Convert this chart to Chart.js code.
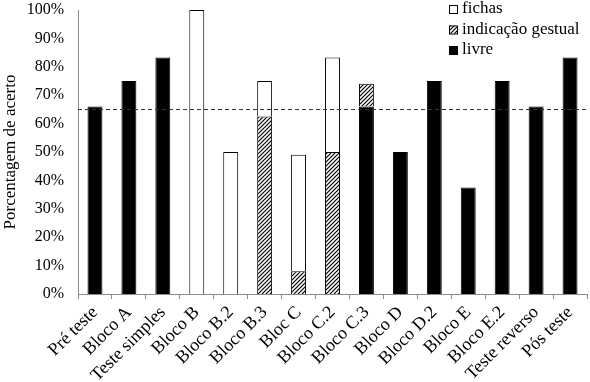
<!DOCTYPE html>
<html>
<head>
<meta charset="utf-8">
<script src="https://cdn.jsdelivr.net/npm/chart.js@4"></script>
<style>
  body { margin: 0; background: #fff; }
  #wrap { width: 590px; height: 382px; }
</style>
</head>
<body>
<div id="wrap"><canvas id="acertos"></canvas></div>
<script>
// Dados
const categorias = ['Pré teste', 'Bloco A', 'Teste simples', 'Bloco B', 'Bloco B.2', 'Bloco B.3', 'Bloc C',
  'Bloco C.2', 'Bloco C.3', 'Bloco D', 'Bloco D.2', 'Bloco E', 'Bloco E.2', 'Teste reverso', 'Pós teste'];
const livre = [66, 75, 83.3, 0, 0, 0, 0, 0, 66, 50, 75, 37.5, 75, 66, 83.3];
const gestual = [0, 0, 0, 0, 0, 62.5, 8, 50, 8, 0, 0, 0, 0, 0, 0];
const fichas = [0, 0, 0, 100, 50, 12.5, 41, 33.3, 0, 0, 0, 0, 0, 0, 0];
const criterio = 65;

const fonte = 'Liberation Serif, Times New Roman, serif';
const cinza = '#8c8c8c';

// padrão hachurado
function hachura() {
  const c = document.createElement('canvas');
  c.width = 4; c.height = 4;
  const g = c.getContext('2d');
  g.fillStyle = '#fff';
  g.fillRect(0, 0, 4, 4);
  g.strokeStyle = '#000';
  g.lineWidth = 1.2;
  g.beginPath();
  g.moveTo(-1, 5); g.lineTo(5, -1);
  g.moveTo(-1, 1); g.lineTo(1, -1);
  g.moveTo(3, 5); g.lineTo(5, 3);
  g.stroke();
  return g.createPattern(c, 'repeat');
}
const padrao = hachura();

// linha tracejada do critério
const linhaCriterio = {
  id: 'linhaCriterio',
  afterDatasetsDraw(chart) {
    const ctx = chart.ctx;
    const y = Math.round(chart.scales.y.getPixelForValue(criterio)) + 0.5;
    ctx.save();
    ctx.strokeStyle = '#333';
    ctx.lineWidth = 1;
    ctx.setLineDash([4, 3]);
    ctx.beginPath();
    ctx.moveTo(chart.chartArea.left, y);
    ctx.lineTo(chart.chartArea.right, y);
    ctx.stroke();
    ctx.restore();
  }
};

// legenda dentro do gráfico
const legenda = {
  id: 'legenda',
  afterDraw(chart) {
    const ctx = chart.ctx;
    const itens = [
      { txt: 'fichas', cor: '#fff' },
      { txt: 'indicação gestual', cor: padrao },
      { txt: 'livre', cor: '#000' }
    ];
    ctx.save();
    ctx.font = '17px ' + fonte;
    ctx.textBaseline = 'middle';
    itens.forEach((it, i) => {
      const y = 9 + i * 20.5;
      ctx.fillStyle = it.cor;
      ctx.fillRect(449, y - 4, 8, 8);
      ctx.strokeStyle = '#000';
      ctx.lineWidth = 1;
      ctx.strokeRect(449.5, y - 3.5, 8, 8);
      ctx.fillStyle = '#000';
      ctx.fillText(it.txt, 462, y);
    });
    ctx.restore();
  }
};

const ctx = document.getElementById('acertos').getContext('2d');
const grafico = new Chart(ctx, {
  type: 'bar',
  data: {
    labels: categorias,
    datasets: [
      { label: 'livre', data: livre, backgroundColor: '#000', borderColor: '#000', borderWidth: 1 },
      { label: 'indicação gestual', data: gestual, backgroundColor: padrao, borderColor: '#000', borderWidth: 1 },
      { label: 'fichas', data: fichas, backgroundColor: '#fff', borderColor: '#000', borderWidth: 1 }
    ]
  },
  options: {
    responsive: true,
    maintainAspectRatio: false,
    animation: false,
    layout: { padding: { top: 10, right: 3, left: 0, bottom: 0 } },
    datasets: { bar: { barPercentage: 0.44, categoryPercentage: 1, skipNull: true } },
    plugins: {
      legend: { display: false },
      tooltip: { enabled: false }
    },
    scales: {
      x: {
        stacked: true,
        grid: { display: true, drawOnChartArea: false, drawTicks: true, tickLength: 5, color: cinza, offset: true },
        border: { color: cinza },
        ticks: { color: '#000', font: { family: fonte, size: 18 }, maxRotation: 45, minRotation: 45, padding: 3, autoSkip: false },
        afterFit(s) { s.height = 88; s.paddingRight = 0; }
      },
      y: {
        stacked: true,
        min: 0,
        max: 100,
        grid: { display: false, drawTicks: false },
        border: { color: cinza },
        ticks: { stepSize: 10, color: '#000', padding: 14, font: { family: fonte, size: 16 }, callback: v => v + '%' },
        title: { display: true, text: 'Porcentagem de acerto', color: '#000', font: { family: fonte, size: 17 }, padding: 0 },
        afterFit(s) { s.width = 78; s.paddingTop = 0; s.paddingBottom = 0; }
      }
    }
  },
  plugins: [linhaCriterio, legenda]
});
</script>
</body>
</html>
